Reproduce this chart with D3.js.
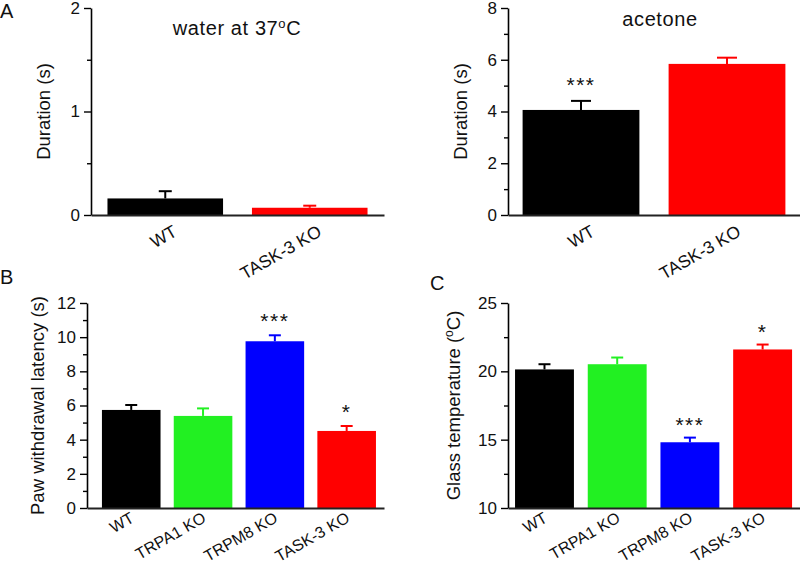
<!DOCTYPE html>
<html><head><meta charset="utf-8">
<script src="https://cdn.jsdelivr.net/npm/d3@7"></script>
<style>
body{margin:0;background:#fff;}
svg{display:block;font-family:Arial,"Liberation Sans",Helvetica,sans-serif;}
</style></head>
<body><svg id="c" width="800" height="565"></svg>
<script>
// ---- data ----
const catsA = ["WT", "TASK-3 KO"];
const waterMean = [0.16, 0.07];
const waterErr = [0.07, 0.02];
const acetoneMean = [4.06, 5.84];
const acetoneErr = [0.35, 0.24];
const catsBC = ["WT", "TRPA1 KO", "TRPM8 KO", "TASK-3 KO"];
const pawMean = [5.74, 5.39, 9.76, 4.51];
const pawErr = [0.29, 0.44, 0.35, 0.29];
const glassMean = [20.14, 20.52, 14.81, 21.6];
const glassErr = [0.38, 0.49, 0.34, 0.36];
const colorsA = ["#000000", "#ff0000"];
const colorsBC = ["#000000", "#22f022", "#0000ff", "#ff0000"];
const starsWater = ["", ""];
const starsAcetone = ["***", ""];
const starsPaw = ["", "", "***", "*"];
const starsGlass = ["", "", "***", "*"];
const waterTicks = [0, 1, 2], waterMinor = [0.5, 1.5];
const acetoneTicks = [0, 2, 4, 6, 8], acetoneMinor = [1, 3, 5, 7];
const pawTicks = [0, 2, 4, 6, 8, 10, 12], pawMinor = [1, 3, 5, 7, 9, 11];
const glassTicks = [10, 15, 20, 25], glassMinor = [12.5, 17.5, 22.5];

const svg = d3.select("#c");
const FONT = "Arial,'Liberation Sans',sans-serif";

function panel(o) {
  const g = svg.append("g");
  const y = d3.scaleLinear().domain(o.domain).range([o.y0, o.y1]);
  const x = d3.scaleBand().domain(o.cats).range([o.x0, o.x1])
    .paddingInner(o.pi).paddingOuter(o.po).align(o.align);
  const data = o.cats.map((c, i) => ({c, m: o.mean[i], e: o.err[i], col: o.colors[i], s: o.stars[i]}));

  // bars
  g.selectAll("rect.bar").data(data).join("rect")
    .attr("x", d => x(d.c)).attr("width", x.bandwidth())
    .attr("y", d => y(d.m)).attr("height", d => y(o.domain[0]) - y(d.m))
    .attr("fill", d => d.col);
  // error bars
  const eb = g.selectAll("g.err").data(data).join("g").attr("stroke", d => d.col).attr("stroke-width", 2);
  eb.append("line").attr("x1", d => x(d.c) + x.bandwidth() / 2).attr("x2", d => x(d.c) + x.bandwidth() / 2)
    .attr("y1", d => y(d.m)).attr("y2", d => y(d.m + d.e));
  eb.append("line").attr("x1", d => x(d.c) + x.bandwidth() / 2 - o.cap / 2).attr("x2", d => x(d.c) + x.bandwidth() / 2 + o.cap / 2)
    .attr("y1", d => y(d.m + d.e)).attr("y2", d => y(d.m + d.e));
  // stars
  g.selectAll("text.star").data(data.filter(d => d.s)).join("text")
    .attr("x", d => x(d.c) + x.bandwidth() / 2).attr("y", d => y(d.m + d.e) - o.starGap)
    .attr("text-anchor", "middle").attr("font-size", 21).attr("letter-spacing", 1.5).attr("fill", "#111")
    .text(d => d.s);

  // y axis
  const ya = g.append("g").attr("transform", `translate(${o.x0},0)`)
    .call(d3.axisLeft(y).tickValues(o.ticks).tickFormat(d3.format("~g")).tickSize(7).tickPadding(4).tickSizeOuter(0));
  ya.select(".domain").attr("stroke", "#000").attr("stroke-width", 1.6);
  ya.selectAll(".tick line").attr("stroke-width", 1.4);
  ya.selectAll("text").attr("font-size", 17).attr("font-family", FONT).attr("fill", "#111");
  const ym = g.append("g").attr("transform", `translate(${o.x0},0)`)
    .call(d3.axisLeft(y).tickValues(o.minor).tickSize(4).tickFormat("").tickSizeOuter(0));
  ym.select(".domain").remove();
  ym.selectAll(".tick line").attr("stroke-width", 1.4);

  // x axis line and labels
  const xa = g.append("g").attr("transform", `translate(0,${o.y0})`)
    .call(d3.axisBottom(x).tickSize(0).tickSizeOuter(0));
  xa.select(".domain").attr("stroke", "#222").attr("stroke-width", 1.8);
  xa.selectAll(".tick text")
    .attr("font-size", o.lfs).attr("font-family", FONT).attr("fill", "#111")
    .attr("text-anchor", "end").attr("dy", null).attr("y", 0)
    .attr("transform", `translate(${o.lx},${o.ly}) rotate(-30)`);

  // y title
  g.append("text").attr("transform", `translate(${o.tx},${(o.y0 + o.y1) / 2}) rotate(-90)`)
    .attr("text-anchor", "middle").attr("font-size", 18.5).attr("fill", "#111")
    .call(t => {
      if (o.unitO) {
        t.append("tspan").text(o.title);
        t.append("tspan").attr("font-size", 12).attr("dy", -7).text("o");
        t.append("tspan").attr("dy", 7).text("C)");
      } else t.text(o.title);
    });
  return {x, y};
}

panel({cats: catsA, mean: waterMean, err: waterErr, colors: colorsA, stars: starsWater,
  domain: [0, 2], ticks: waterTicks, minor: waterMinor, y0: 215, y1: 8, x0: 91, x1: 384,
  pi: 0.2, po: 0.114, align: 0.5, cap: 13, starGap: 9, lx: 13, ly: 20, lfs: 17.5, tx: 50, title: "Duration (s)"});
panel({cats: catsA, mean: acetoneMean, err: acetoneErr, colors: colorsA, stars: starsAcetone,
  domain: [0, 8], ticks: acetoneTicks, minor: acetoneMinor, y0: 215, y1: 8, x0: 508, x1: 800,
  pi: 0.2, po: 0.1, align: 0.5, cap: 20, starGap: 9, lx: 15, ly: 20, lfs: 17.5, tx: 467, title: "Duration (s)"});
panel({cats: catsBC, mean: pawMean, err: pawErr, colors: colorsBC, stars: starsPaw,
  domain: [0, 12], ticks: pawTicks, minor: pawMinor, y0: 508, y1: 303, x0: 87, x1: 384,
  pi: 0.184, po: 0.16, align: 0.65, cap: 12, starGap: 7, lx: 4, ly: 13, lfs: 16, tx: 44, title: "Paw withdrawal latency (s)"});
panel({cats: catsBC, mean: glassMean, err: glassErr, colors: colorsBC, stars: starsGlass,
  domain: [10, 25], ticks: glassTicks, minor: glassMinor, y0: 508, y1: 303, x0: 508, x1: 800,
  pi: 0.19, po: 0.103, align: 0.47, cap: 12, starGap: 6, lx: 4, ly: 13, lfs: 16, tx: 460, title: "Glass temperature (", unitO: true});

// panel titles
const t1 = svg.append("text").attr("x", 237).attr("y", 35).attr("text-anchor", "middle")
  .attr("font-size", 20).attr("letter-spacing", 0.6).attr("fill", "#111");
t1.append("tspan").text("water at 37");
t1.append("tspan").attr("font-size", 13).attr("dy", -7).text("o");
t1.append("tspan").attr("dy", 7).text("C");
svg.append("text").attr("x", 660).attr("y", 26).attr("text-anchor", "middle")
  .attr("font-size", 20).attr("letter-spacing", 0.6).attr("fill", "#111").text("acetone");

// panel letters
[["A", 0, 18], ["B", 0, 284], ["C", 430, 290]].forEach(([l, x, y]) =>
  svg.append("text").attr("x", x).attr("y", y).attr("font-size", 20).attr("fill", "#111").text(l));
</script></body></html>
